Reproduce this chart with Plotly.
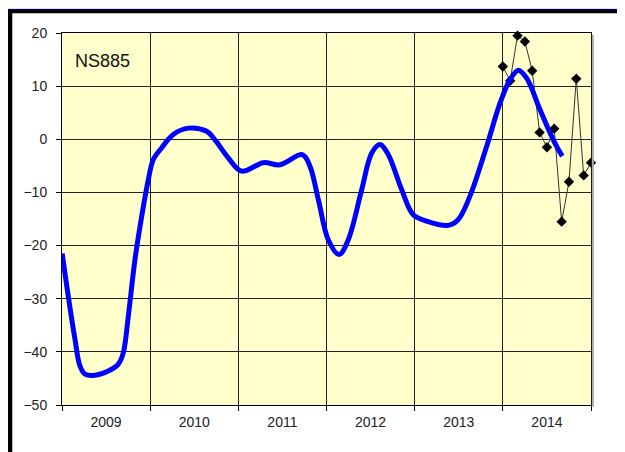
import plotly.graph_objects as go

# Smoothed series (blue)
smooth_x = [2009.003, 2009.071, 2009.147, 2009.204, 2009.261, 2009.374, 2009.525, 2009.639,
            2009.695, 2009.752, 2009.828, 2009.904, 2009.979, 2010.036, 2010.131, 2010.262,
            2010.432, 2010.641, 2010.735, 2010.886, 2011.038, 2011.283, 2011.472, 2011.726,
            2011.813, 2011.907, 2012.020, 2012.142, 2012.247, 2012.399, 2012.513, 2012.607,
            2012.701, 2012.853, 2012.984, 2013.136, 2013.381, 2013.495, 2013.627, 2013.817,
            2013.968, 2014.081, 2014.175, 2014.270, 2014.421, 2014.572, 2014.674]
smooth_y = [-21.5, -29.5, -37.6, -42.7, -44.2, -44.4, -43.6, -42.3,
            -40.2, -33.3, -22.6, -14.5, -7.6, -3.8, -1.6, 0.9,
            2.1, 1.5, -0.1, -3.5, -6.0, -4.4, -4.8, -2.9,
            -5.1, -11.3, -18.9, -21.7, -18.9, -9.5, -2.6, -1.0,
            -2.9, -9.5, -14.2, -15.4, -16.2, -15.1, -10.7, -1.3,
            6.8, 11.2, 13.0, 11.5, 5.6, -0.1, -3.2]

# Monthly values (black diamonds)
monthly_x = [2014.000, 2014.083, 2014.167, 2014.250, 2014.333, 2014.417, 2014.500,
             2014.583, 2014.667, 2014.750, 2014.833, 2014.917, 2015.000]
monthly_y = [13.7, 11.0, 19.5, 18.4, 12.9, 1.3, -1.5, 2.0, -15.5, -8.0, 11.4, -6.8, -4.4]

year_ticks = [2009.5, 2010.5, 2011.5, 2012.5, 2013.5, 2014.5]
year_labels = ["2009", "2010", "2011", "2012", "2013", "2014"]
year_bounds = [2009, 2010, 2011, 2012, 2013, 2014, 2015]
y_ticks = [-50, -40, -30, -20, -10, 0, 10, 20]

FONT = "Liberation Sans, Arial, sans-serif"

fig = go.Figure()
fig.add_trace(go.Scatter(
    x=monthly_x, y=monthly_y, mode="lines+markers",
    line=dict(color="#333333", width=1),
    marker=dict(symbol="diamond", size=8, color="black"),
    cliponaxis=False, showlegend=False))
fig.add_trace(go.Scatter(
    x=smooth_x, y=smooth_y, mode="lines",
    line=dict(color="#0000FF", width=5, shape="spline", smoothing=1.0),
    showlegend=False))

fig.update_layout(
    width=617, height=444,
    margin=dict(l=54, r=34, t=25, b=47),
    paper_bgcolor="white", plot_bgcolor="#FFFFCC",
    font=dict(family=FONT, size=14, color="#222222"),
    xaxis=dict(range=[2009, 2015], tickmode="array", tickvals=year_ticks, ticktext=year_labels,
               ticks="outside", ticklen=4, tickcolor="rgba(0,0,0,0)",
               showgrid=False, zeroline=False, showline=True, linecolor="black", linewidth=1,
               mirror=True,
               minor=dict(tickmode="array", tickvals=year_bounds, ticks="outside", ticklen=5,
                          tickcolor="black", showgrid=True, gridcolor="#222222", gridwidth=1)),
    yaxis=dict(range=[-50, 20], tickmode="array", tickvals=y_ticks,
               ticks="outside", ticklen=5, tickcolor="black",
               showgrid=True, gridcolor="#222222", gridwidth=1, zeroline=False,
               showline=True, linecolor="black", linewidth=1, mirror=True,
               ticklabelstandoff=6),
    annotations=[dict(text="NS885", xref="paper", yref="paper", x=0.0208, y=0.925,
                      xanchor="left", yanchor="middle", showarrow=False,
                      font=dict(family=FONT, size=18, color="#111111"))],
    shapes=[
        # outer frame (left and top)
        dict(type="rect", xref="paper", yref="paper", x0=-0.1034, x1=-0.094, y0=-0.2, y1=1.0645,
             fillcolor="black", line=dict(width=0)),
        dict(type="rect", xref="paper", yref="paper", x0=-0.1034, x1=1.2, y0=1.053, y1=1.0645,
             fillcolor="black", line=dict(width=0)),
        dict(type="line", xref="paper", yref="paper", x0=-0.1034, x1=1.2, y0=1.0635, y1=1.0635,
             line=dict(color="#000080", width=1)),
        # shadow right of plot area
        dict(type="line", xref="paper", yref="paper", x0=1.0035, x1=1.0035, y0=-0.005, y1=0.995,
             line=dict(color="#AAAAAA", width=2)),
    ],
)

fig.write_html("out.html")
